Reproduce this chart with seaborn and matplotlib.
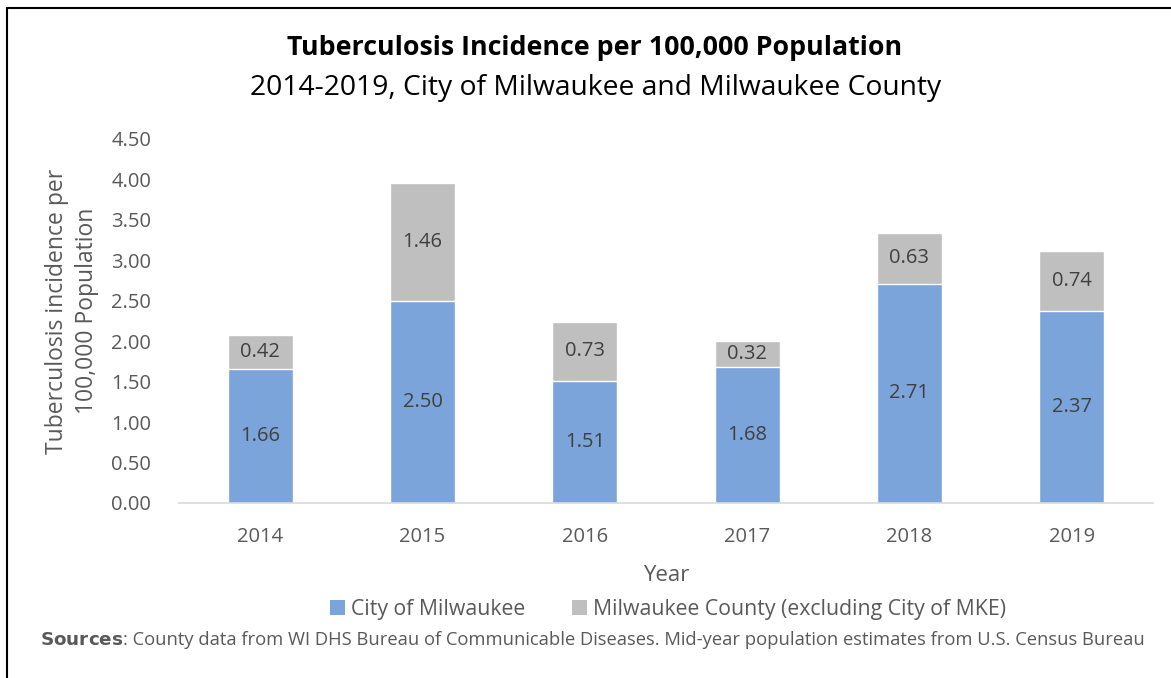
import matplotlib
matplotlib.use("Agg")
import matplotlib.pyplot as plt
import seaborn as sns
import pandas as pd
from matplotlib.patches import Patch
from matplotlib.lines import Line2D

years = ["2014", "2015", "2016", "2017", "2018", "2019"]
city = [1.66, 2.50, 1.51, 1.68, 2.71, 2.37]
county = [0.42, 1.46, 0.73, 0.32, 0.63, 0.74]
series_names = ["City of Milwaukee", "Milwaukee County (excluding City of MKE)"]
yticks = [0.0, 0.5, 1.0, 1.5, 2.0, 2.5, 3.0, 3.5, 4.0, 4.5]

sns.set_theme(style="white")
FONT = ["Open Sans", "DejaVu Sans"]
plt.rcParams["font.family"] = FONT

BLUE = "#7AA4DA"
GRAY = "#BFBFBF"
TXT = "#595959"
LBL = "#404040"

df = pd.DataFrame({"year": years, "city": city, "county": county})
df["total"] = df["city"] + df["county"]

fig = plt.figure(figsize=(11.71, 6.78), dpi=100)
ax = fig.add_axes([179/1171, 1-503/678, (1153-179)/1171, (503-139)/678])

sns.barplot(data=df, x="year", y="total", color=GRAY, width=0.4, saturation=1, ax=ax)
sns.barplot(data=df, x="year", y="city", color=BLUE, width=0.4, saturation=1, ax=ax)

for i, (c, k) in enumerate(zip(city, county)):
    ax.text(i, c / 2, f"{c:.2f}", ha="center", va="center", fontsize=14.5, color=LBL)
    ax.text(i, c + k / 2, f"{k:.2f}", ha="center", va="center", fontsize=14.5, color=LBL)

ax.set_ylim(0, 4.5)
ax.set_xlim(-0.5, 5.5)
ax.set_yticks(yticks)
ax.set_yticklabels([f"{v:.2f}" for v in yticks], fontsize=14.5, color=TXT)
ax.tick_params(axis="x", labelsize=14.5, labelcolor=TXT, length=0, pad=17)
ax.tick_params(axis="y", length=0, pad=20)
for s in ["top", "right", "left"]:
    ax.spines[s].set_visible(False)
ax.spines["bottom"].set_color("#D9D9D9")
ax.spines["bottom"].set_linewidth(1.2)
ax.set_xlabel("Year", fontsize=16, color=TXT, labelpad=13)
ax.set_ylabel("Tuberculosis incidence per\n100,000 Population", fontsize=16.5, color=TXT,
              linespacing=1.35)
ax.yaxis.set_label_coords((99-179)/974, (503-311)/364)

fig.text(595/1171, 1-48/678, "Tuberculosis Incidence per 100,000 Population",
         ha="center", va="center", fontsize=19.3, fontweight="bold", color="black")
fig.text(596/1171, 1-88/678, "2014-2019, City of Milwaukee and Milwaukee County",
         ha="center", va="center", fontsize=20.3, color="black")

handles = [Patch(facecolor=BLUE, edgecolor="none"), Patch(facecolor=GRAY, edgecolor="none")]
leg = fig.legend(handles, series_names, loc="center", bbox_to_anchor=(668/1171, 1-609/678),
                 ncol=2, frameon=False, fontsize=15.3, handlelength=0.7, handleheight=0.7,
                 handletextpad=0.3, columnspacing=2.2, labelcolor=TXT)

fig.text(40/1171, 1-640/678, r"$\bf{Sources}$", ha="left", va="center", fontsize=13.2, color=TXT)
fig.canvas.draw()
r = fig.texts[-1].get_window_extent()
fig.text(r.x1/1171, 1-640/678, ": County data from WI DHS Bureau of Communicable Diseases. Mid-year population estimates from U.S. Census Bureau",
         ha="left", va="center", fontsize=13.2, color=TXT)

# frame (top and left edges visible)
fig.add_artist(Line2D([7/1171, 7/1171], [0, 1-8/678], transform=fig.transFigure, color="black", lw=1.5))
fig.add_artist(Line2D([7/1171, 1], [1-8/678, 1-8/678], transform=fig.transFigure, color="black", lw=1.5))

fig.savefig("out.png", dpi=100)
